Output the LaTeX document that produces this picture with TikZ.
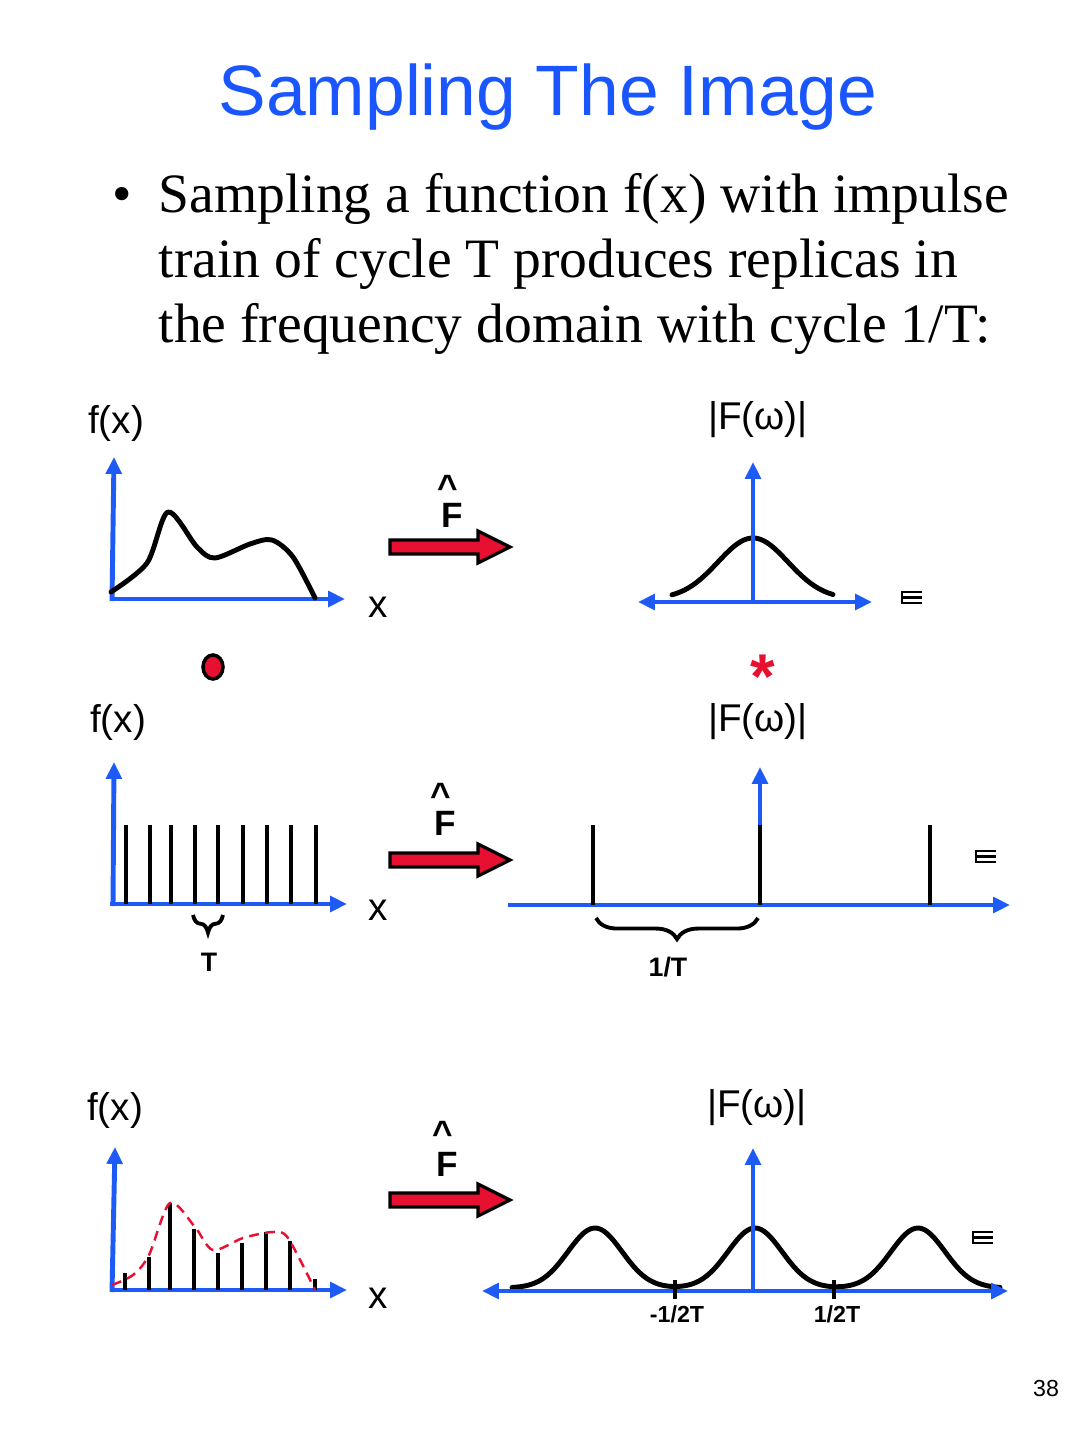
\documentclass[tikz,border=0pt]{standalone}
\usepackage{fontspec}
\setmainfont{Liberation Serif}
\newfontfamily\arialfont{Liberation Sans}
\usetikzlibrary{arrows.meta,decorations.pathreplacing}
\definecolor{slideblue}{RGB}{30,90,245}
\definecolor{titleblue}{RGB}{26,86,255}
\definecolor{signalred}{RGB}{232,16,48}
\tikzset{
  axis-blue/.style={
    draw=slideblue,
    line width=1.4pt,
    -{Triangle[length=4.8pt,width=4.4pt]}
  },
  axis-both/.style={
    axis-blue,
    {Triangle[length=4.8pt,width=4.4pt]}-{Triangle[length=4.8pt,width=4.4pt]}
  },
  curve-black/.style={
    black,
    line width=1.4pt,
    line cap=round,
    line join=round
  },
  spike/.style={black, line width=1.4pt},
  tick/.style={black, line width=0.9pt},
  mark-lines/.style={black, line width=0.7pt},
  brace-line/.style={black, line width=1.1pt, decorate},
  label-sans/.style={font=\arialfont\fontsize{11}{13}\selectfont},
  label-bold/.style={font=\arialfont\bfseries\fontsize{7.6}{9}\selectfont},
  label-small/.style={font=\arialfont\bfseries\fontsize{6.6}{8}\selectfont},
  hat-bold/.style={font=\arialfont\bfseries\fontsize{10}{12}\selectfont},
  hat-mark/.style={hat-bold, text height=0.72em, text depth=-0.42em},
  body-text/.style={font=\fontsize{15.8}{18.4}\selectfont, anchor=base west}
}
% fat red arrow standing for the Fourier transform, #1 = its height
\newcommand{\fourierarrow}[1]{%
  \begin{scope}[shift={(0,#1)}]
    \draw[black, line width=0.9pt, fill=signalred]
      (390,-7) -- (478,-7) -- (478,-16) -- (510,0) -- (478,16) -- (478,7)
      -- (390,7) -- cycle;
  \end{scope}
}
% the small E-shaped mark next to each spectrum
\newcommand{\ellmark}[2]{%
  \begin{scope}[shift={(#1,#2)}]
    \draw[mark-lines] (20,0) -- (0,0) -- (0,11) -- (20,11) (0,5.5) -- (20,5.5);
  \end{scope}
}

\begin{document}
\begin{tikzpicture}[x=0.01cm, y=-0.01cm, every node/.style={inner sep=0pt}]
  \useasboundingbox (0,0) rectangle (1080,1440);

  % title and bullet
  \node[text=titleblue, font=\arialfont\fontsize{20.3}{24}\selectfont, anchor=base]
    (title) at (548,116) {Sampling The Image};
  \node[body-text] (bullet) at (112,213) {\textbullet};
  \node[body-text] (line-a) at (158,213) {Sampling a function f(x) with impulse};
  \node[body-text] (line-b) at (158,278) {train of cycle T produces replicas in};
  \node[body-text] (line-c) at (158,343) {the frequency domain with cycle 1/T:};

  % row 1: the function and its spectrum
  \node[label-sans] (fx-a) at (116,423) {f(x)};
  \node[label-sans] (Fw-a) at (758,420) {|F(ω)|};
  \draw[axis-blue] (112,601) -- (114,457);
  \draw[axis-blue] (110,599) -- (345,599);
  \draw[curve-black] plot[smooth] coordinates {(111,592) (147,563) (168,512)
    (197,547) (215,558) (250,544) (272,540) (293,557) (315,598)};
  \node[label-sans] (x-a) at (378,607) {x};
  \node[hat-mark] (hat-a) at (448,487) {\textasciicircum};
  \node[hat-bold] (F-a) at (452,515) {F};
  \fourierarrow{547}
  \draw[curve-black] plot[domain=672:833, samples=61]
    (\x,{599-61*exp(-0.5*pow((\x-753)/35,2))});
  \draw[axis-blue] (753,603) -- (753,462);
  \draw[axis-both] (638,602) -- (872,602);
  \ellmark{902}{592}

  % convolution symbols
  \draw[black, line width=1pt, fill=signalred] (213,667) ellipse [x radius=0.1cm, y radius=0.12cm];
  \node[text=signalred, font=\arialfont\bfseries\fontsize{18}{21}\selectfont] (conv) at (763,677) {*};

  % row 2: the impulse train and its spectrum
  \node[label-sans] (fx-b) at (118,722) {f(x)};
  \node[label-sans] (Fw-b) at (758,722) {|F(ω)|};
  \draw[axis-blue] (113,906) -- (114,762);
  \draw[axis-blue] (110,904) -- (347,904);
  \foreach \sx in {126,150,171,195,218,243,267,291,316}
    \draw[spike] (\sx,904) -- (\sx,825);
  \draw[brace-line, decoration={brace, amplitude=5pt}] (223,915) -- (193,915);
  \node[label-bold] (T-b) at (209,962) {T};
  \node[label-sans] (x-b) at (378,910) {x};
  \node[hat-mark] (hat-b) at (441,795) {\textasciicircum};
  \node[hat-bold] (F-b) at (445,823) {F};
  \fourierarrow{860}
  \draw[axis-blue] (760,906) -- (760,767);
  \draw[axis-blue] (508,905) -- (1010,905);
  \foreach \sx in {593,760,930}
    \draw[spike] (\sx,905) -- (\sx,825);
  \draw[brace-line, decoration={brace, amplitude=6pt}] (758,918) -- (596,918);
  \node[label-bold] (invT-b) at (668,967) {1/T};
  \ellmark{976}{851}

  % row 3: the sampled function and its replicated spectrum
  \node[label-sans] (fx-c) at (115,1110) {f(x)};
  \node[label-sans] (Fw-c) at (757,1108) {|F(ω)|};
  \draw[axis-blue] (112,1292) -- (115,1147);
  \draw[axis-blue] (110,1290) -- (347,1290);
  \foreach \sx/\sy in {125/1273,149/1257,170/1203,194/1229,218/1253,242/1243,266/1232,290/1241,315/1279}
    \draw[spike] (\sx,1290) -- (\sx,\sy);
  \draw[signalred, line width=0.7pt, dash pattern=on 2.8pt off 1.8pt] plot[smooth] coordinates {
    (112,1285) (133,1275) (149,1255) (170,1203) (195,1227) (213,1250)
    (243,1238) (273,1232) (288,1238) (315,1290)};
  \node[label-sans] (x-c) at (378,1298) {x};
  \node[hat-mark] (hat-c) at (443,1133) {\textasciicircum};
  \node[hat-bold] (F-c) at (447,1164) {F};
  \fourierarrow{1200}
  \draw[curve-black] plot[domain=512:1000, samples=150]
    (\x,{1288-60*(exp(-0.5*min(pow((\x-595)/27,2),18))
      +exp(-0.5*min(pow((\x-755)/27,2),18))
      +exp(-0.5*min(pow((\x-918)/27,2),18)))});
  \draw[axis-blue] (753,1292) -- (753,1148);
  \draw[axis-both] (482,1291) -- (1008,1291);
  \draw[tick] (675,1280) -- (675,1299);
  \draw[tick] (834,1280) -- (834,1299);
  \node[label-small] (neg-half) at (677,1314) {-1/2T};
  \node[label-small] (pos-half) at (837,1314) {1/2T};
  \ellmark{973}{1232}

  % slide number
  \node[font=\arialfont\fontsize{6.6}{8}\selectfont] (page) at (1046,1388) {38};
\end{tikzpicture}
\end{document}
